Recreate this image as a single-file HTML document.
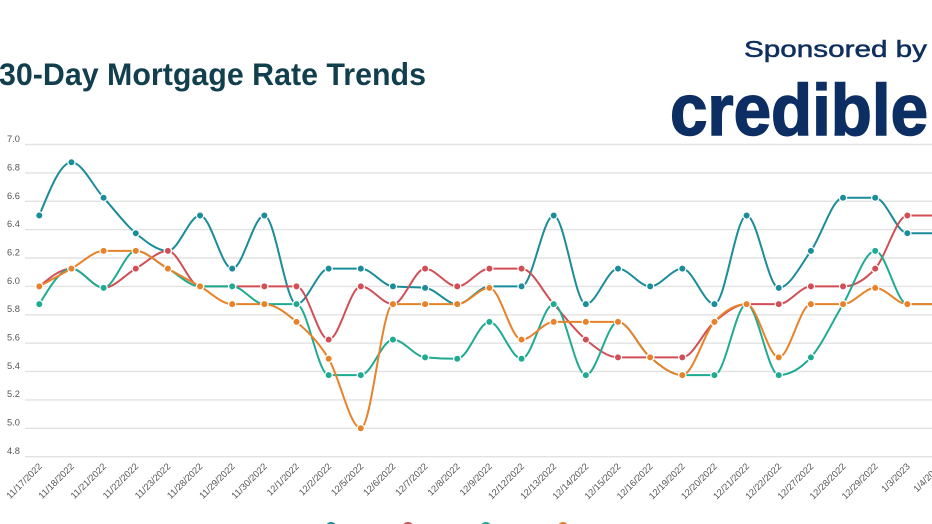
<!DOCTYPE html>
<html><head><meta charset="utf-8"><style>
html,body{margin:0;padding:0;background:#fff;}
body{width:932px;height:524px;overflow:hidden;}
svg{display:block;}
</style></head><body>
<svg id="c" width="932" height="524" viewBox="0 0 932 524" xmlns="http://www.w3.org/2000/svg" font-family="'Liberation Sans', sans-serif">
<rect width="932" height="524" fill="#fff"/>
<text x="-1" y="85" font-size="31.5" font-weight="bold" fill="#113f4e" textLength="427" lengthAdjust="spacingAndGlyphs">30-Day Mortgage Rate Trends</text>
<text x="744" y="57" font-size="23" fill="#0f2f5f" stroke="#0f2f5f" stroke-width="0.5" textLength="183" lengthAdjust="spacingAndGlyphs">Sponsored by</text>
<text x="670" y="135" font-size="72" font-weight="bold" fill="#0c2e63" stroke="#0c2e63" stroke-width="1.5" textLength="258" lengthAdjust="spacingAndGlyphs">credible</text>
<g id="grid" stroke="#e2e2e2" stroke-width="1.4"></g>
<g fill="#555" font-size="9.3">
<text x="7" y="142">7.0</text>
<text x="7" y="170.5">6.8</text>
<text x="7" y="199">6.6</text>
<text x="7" y="227">6.4</text>
<text x="7" y="255.5">6.2</text>
<text x="7" y="284">6.0</text>
<text x="7" y="312">5.8</text>
<text x="7" y="340.5">5.6</text>
<text x="7" y="369">5.4</text>
<text x="7" y="397">5.2</text>
<text x="7" y="425.5">5.0</text>
<text x="7" y="454">4.8</text>
</g>
<g id="xl" fill="#555" font-size="9.3" text-anchor="end">
<text transform="translate(42.5,467) rotate(-45)">11/17/2022</text>
<text transform="translate(74.6,467) rotate(-45)">11/18/2022</text>
<text transform="translate(106.8,467) rotate(-45)">11/21/2022</text>
<text transform="translate(138.9,467) rotate(-45)">11/22/2022</text>
<text transform="translate(171.1,467) rotate(-45)">11/23/2022</text>
<text transform="translate(203.2,467) rotate(-45)">11/28/2022</text>
<text transform="translate(235.4,467) rotate(-45)">11/29/2022</text>
<text transform="translate(267.6,467) rotate(-45)">11/30/2022</text>
<text transform="translate(299.7,467) rotate(-45)">12/1/2022</text>
<text transform="translate(331.9,467) rotate(-45)">12/2/2022</text>
<text transform="translate(364,467) rotate(-45)">12/5/2022</text>
<text transform="translate(396.2,467) rotate(-45)">12/6/2022</text>
<text transform="translate(428.3,467) rotate(-45)">12/7/2022</text>
<text transform="translate(460.5,467) rotate(-45)">12/8/2022</text>
<text transform="translate(492.6,467) rotate(-45)">12/9/2022</text>
<text transform="translate(524.8,467) rotate(-45)">12/12/2022</text>
<text transform="translate(556.9,467) rotate(-45)">12/13/2022</text>
<text transform="translate(589.1,467) rotate(-45)">12/14/2022</text>
<text transform="translate(621.2,467) rotate(-45)">12/15/2022</text>
<text transform="translate(653.4,467) rotate(-45)">12/16/2022</text>
<text transform="translate(685.5,467) rotate(-45)">12/19/2022</text>
<text transform="translate(717.7,467) rotate(-45)">12/20/2022</text>
<text transform="translate(749.8,467) rotate(-45)">12/21/2022</text>
<text transform="translate(782,467) rotate(-45)">12/22/2022</text>
<text transform="translate(814.1,467) rotate(-45)">12/27/2022</text>
<text transform="translate(846.3,467) rotate(-45)">12/28/2022</text>
<text transform="translate(878.4,467) rotate(-45)">12/29/2022</text>
<text transform="translate(910.6,467) rotate(-45)">1/3/2023</text>
<text transform="translate(942.7,467) rotate(-45)">1/4/2023</text>
</g>
<g id="lines" fill="none" stroke-width="2" stroke-linejoin="round" stroke-linecap="round"></g>
<g id="dots" stroke="#fff" stroke-width="1.2"></g>
<g stroke="none">
<circle cx="331" cy="527.5" r="5.5" fill="#1b8c9a"/>
<circle cx="408" cy="527.5" r="5.5" fill="#d24e55"/>
<circle cx="486" cy="527.5" r="5.5" fill="#1fab92"/>
<circle cx="563" cy="527.5" r="5.5" fill="#e8822a"/>
</g>
</svg>
<script>
(function(){
var NS="http://www.w3.org/2000/svg";
function Y(v){return 144.5+(7-v)*141.9;}
function X(i){return 39.3+32.15*i;}
var g=document.getElementById('grid');
for(var k=0;k<12;k++){var v=7-0.2*k;var l=document.createElementNS(NS,'line');l.setAttribute('x1',25);l.setAttribute('x2',932);l.setAttribute('y1',Y(v).toFixed(1));l.setAttribute('y2',Y(v).toFixed(1));g.appendChild(l);}
var S=[
{c:"#1b8c9a",d:[6.5,6.875,6.625,6.375,6.25,6.5,6.125,6.5,5.875,6.125,6.125,6.0,5.99,5.875,6.0,6.0,6.5,5.875,6.125,6.0,6.125,5.875,6.5,5.99,6.25,6.625,6.625,6.375,6.375]},
{c:"#d24e55",d:[6.0,6.125,5.99,6.125,6.25,6.0,6.0,6.0,6.0,5.625,6.0,5.875,6.125,6.0,6.125,6.125,5.875,5.625,5.5,5.5,5.5,5.75,5.875,5.875,6.0,6.0,6.125,6.5,6.5]},
{c:"#1fab92",d:[5.875,6.125,5.99,6.25,6.125,6.0,6.0,5.875,5.875,5.375,5.375,5.625,5.5,5.49,5.75,5.49,5.875,5.375,5.75,5.5,5.375,5.375,5.875,5.375,5.5,5.875,6.25,5.875,5.875]},
{c:"#e8822a",d:[6.0,6.125,6.25,6.25,6.125,6.0,5.875,5.875,5.75,5.49,5.0,5.875,5.875,5.875,5.99,5.625,5.75,5.75,5.75,5.5,5.375,5.75,5.875,5.5,5.875,5.875,5.99,5.875,5.875]}
];
function sign(x){return x<0?-1:1;}
function path(xs,ys){
 var n=xs.length,t=new Array(n);
 for(var i=1;i<n-1;i++){
  var h0=xs[i]-xs[i-1],h1=xs[i+1]-xs[i];
  var s0=(ys[i]-ys[i-1])/h0,s1=(ys[i+1]-ys[i])/h1,p=(s0*h1+s1*h0)/(h0+h1);
  t[i]=(sign(s0)+sign(s1))*Math.min(Math.abs(s0),Math.abs(s1),0.5*Math.abs(p))||0;
 }
 var h=xs[1]-xs[0];t[0]=(3*(ys[1]-ys[0])/h-t[1])/2;
 h=xs[n-1]-xs[n-2];t[n-1]=(3*(ys[n-1]-ys[n-2])/h-t[n-2])/2;
 var d="M"+xs[0].toFixed(2)+","+ys[0].toFixed(2);
 for(var i=0;i<n-1;i++){
  var dx=(xs[i+1]-xs[i])/3;
  d+="C"+(xs[i]+dx).toFixed(2)+","+(ys[i]+dx*t[i]).toFixed(2)+" "+(xs[i+1]-dx).toFixed(2)+","+(ys[i+1]-dx*t[i+1]).toFixed(2)+" "+xs[i+1].toFixed(2)+","+ys[i+1].toFixed(2);
 }
 return d;
}
var L=document.getElementById('lines'),D=document.getElementById('dots');
S.forEach(function(s){
 var xs=[],ys=[];
 for(var i=0;i<s.d.length;i++){xs.push(X(i));ys.push(Y(s.d[i]));}
 var p=document.createElementNS(NS,'path');p.setAttribute('d',path(xs,ys));p.setAttribute('stroke',s.c);L.appendChild(p);
});
S.forEach(function(s){
 for(var i=0;i<s.d.length;i++){
  var c=document.createElementNS(NS,'circle');c.setAttribute('cx',X(i).toFixed(2));c.setAttribute('cy',Y(s.d[i]).toFixed(2));c.setAttribute('r',3.6);c.setAttribute('fill',s.c);D.appendChild(c);
 }
});
})();
</script>
</body></html>
